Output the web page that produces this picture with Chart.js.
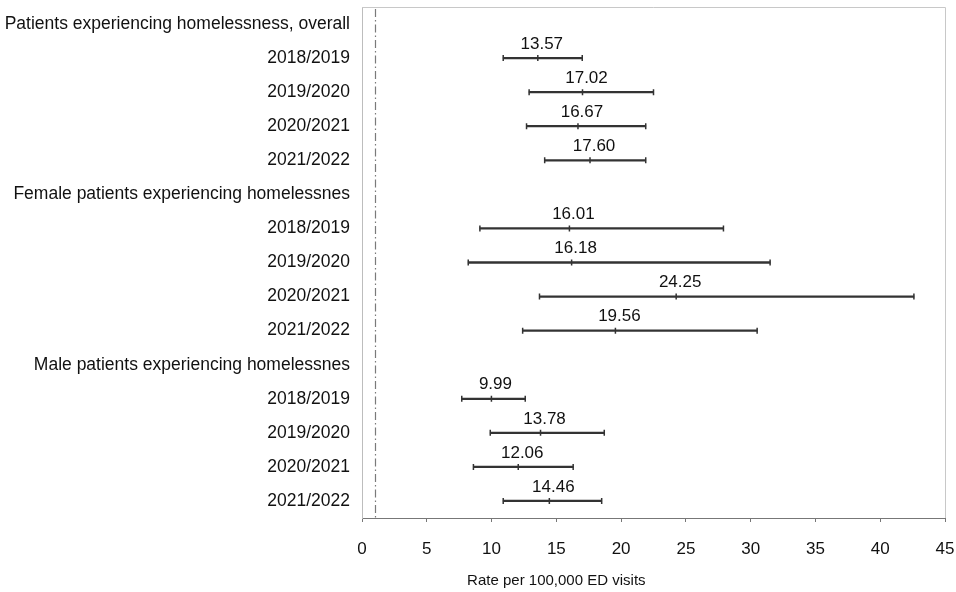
<!DOCTYPE html>
<html>
<head>
<meta charset="utf-8">
<script src="https://cdn.jsdelivr.net/npm/chart.js@4"></script>
<style>
  html, body { margin: 0; padding: 0; background: #fff; }
  #wrap { width: 956px; height: 592px; }
</style>
</head>
<body>
<div id="wrap"><canvas id="forest"></canvas></div>
<script>
// rows from top to bottom, group headers have no values
const rowLabels = [
    'Patients experiencing homelessness, overall',
    '2018/2019', '2019/2020', '2020/2021', '2021/2022',
    'Female patients experiencing homelessnes',
    '2018/2019', '2019/2020', '2020/2021', '2021/2022',
    'Male patients experiencing homelessnes',
    '2018/2019', '2019/2020', '2020/2021', '2021/2022'
];
const estimates = [null, 13.57, 17.02, 16.67, 17.60, null, 16.01, 16.18, 24.25, 19.56, null, 9.99, 13.78, 12.06, 14.46];
const lower = [null, 10.9, 12.9, 12.7, 14.1, null, 9.1, 8.2, 13.7, 12.4, null, 7.7, 9.9, 8.6, 10.9];
const upper = [null, 17.0, 22.5, 21.9, 21.9, null, 27.9, 31.5, 42.6, 30.5, null, 12.6, 18.7, 16.3, 18.5];
const xTicks = [0, 5, 10, 15, 20, 25, 30, 35, 40, 45];
const refValue = 1;
const axisTitle = 'Rate per 100,000 ED visits';

const FONT = "'Liberation Sans', Arial, sans-serif";
const INK = '#333333';

// light frame on top/right + dash-dot reference line
const framePlugin = {
    id: 'frame',
    beforeDatasetsDraw(chart) {
        const { ctx, chartArea: a, scales } = chart;
        ctx.save();
        ctx.strokeStyle = '#c8c8c8';
        ctx.lineWidth = 1;
        ctx.beginPath();
        ctx.moveTo(a.left, a.top + 0.5);
        ctx.lineTo(a.right + 0.5, a.top + 0.5);
        ctx.lineTo(a.right + 0.5, a.bottom);
        ctx.stroke();
        const rx = Math.round(scales.x.getPixelForValue(refValue)) + 0.5;
        ctx.strokeStyle = '#7a7a7a';
        ctx.lineWidth = 1.2;
        ctx.setLineDash([8, 3, 1.5, 3]);
        ctx.beginPath();
        ctx.moveTo(rx, a.top + 2);
        ctx.lineTo(rx, a.bottom);
        ctx.stroke();
        ctx.restore();
    },
    afterDraw(chart) {
        const { ctx, scales } = chart;
        ctx.save();
        ctx.font = '15px ' + FONT;
        ctx.fillStyle = '#111';
        ctx.textAlign = 'center';
        ctx.textBaseline = 'middle';
        ctx.fillText(axisTitle, scales.x.getPixelForValue(15), 581);
        ctx.restore();
    }
};

// value labels above the point estimates
const labelPlugin = {
    id: 'valueLabels',
    afterDatasetsDraw(chart) {
        const { ctx } = chart;
        const meta = chart.getDatasetMeta(1);
        ctx.save();
        ctx.font = '17px ' + FONT;
        ctx.fillStyle = '#111';
        ctx.textAlign = 'center';
        ctx.textBaseline = 'middle';
        meta.data.forEach((pt, i) => {
            if (estimates[i] == null) return;
            ctx.fillText(estimates[i].toFixed(2), pt.x + 4, pt.y - 14);
        });
        ctx.restore();
    }
};

const tickPoint = {
    type: 'line',
    showLine: false,
    pointStyle: 'line',
    rotation: 90,
    pointRadius: 3,
    pointHoverRadius: 3,
    borderColor: INK,
    borderWidth: 1.5
};

new Chart(document.getElementById('forest'), {
    type: 'bar',
    data: {
        labels: rowLabels,
        datasets: [
            {
                label: 'CI',
                data: lower.map((l, i) => l == null ? null : [l, upper[i]]),
                backgroundColor: INK,
                barThickness: 1.6,
                borderSkipped: false
            },
            Object.assign({ label: 'Rate', data: estimates }, tickPoint),
            Object.assign({ label: 'Lower', data: lower }, tickPoint),
            Object.assign({ label: 'Upper', data: upper }, tickPoint)
        ]
    },
    options: {
        indexAxis: 'y',
        responsive: true,
        maintainAspectRatio: false,
        animation: false,
        layout: { padding: { top: 7, right: 11, left: 0, bottom: 0 } },
        plugins: {
            legend: { display: false },
            tooltip: { enabled: false }
        },
        scales: {
            x: {
                type: 'linear',
                min: 0,
                max: 45,
                afterBuildTicks(scale) { scale.ticks = xTicks.map(v => ({ value: v })); },
                afterFit(scale) {
                    scale.height = 74;
                    scale.paddingLeft = 0;
                    scale.paddingRight = 0;
                },
                grid: { drawOnChartArea: false, drawTicks: true, tickLength: 4, color: '#777' },
                border: { color: '#777' },
                ticks: { color: '#111', font: { family: FONT, size: 17 }, padding: 17 }
            },
            y: {
                type: 'category',
                offset: true,
                afterFit(scale) {
                    scale.width = 362;
                    scale.paddingTop = 0;
                    scale.paddingBottom = 0;
                },
                grid: { display: false },
                border: { display: true, color: '#bdbdbd', dash: [1, 2] },
                ticks: { color: '#111', autoSkip: false, font: { family: FONT, size: 17.5 }, padding: 4 }
            }
        }
    },
    plugins: [framePlugin, labelPlugin]
});
</script>
</body>
</html>
